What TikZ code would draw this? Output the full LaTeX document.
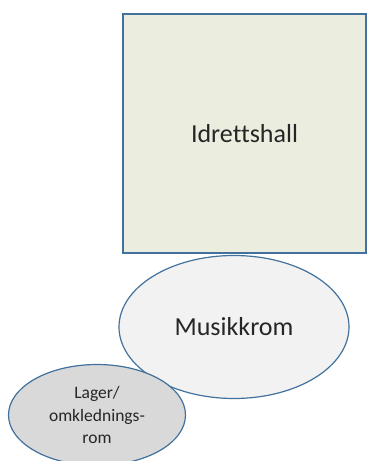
\documentclass[tikz,border=0pt]{standalone}
\usepackage{fontspec}
\setmainfont{Carlito}[Ligatures=CommonOff]
\usetikzlibrary{shapes.geometric}
\definecolor{rimblue}{HTML}{41719C}
\definecolor{hallfill}{HTML}{EBEEDF}
\definecolor{musikkfill}{HTML}{F2F2F2}
\definecolor{lagerfill}{HTML}{D9D9D9}
\begin{document}
\begin{tikzpicture}[x=1pt, y=1pt,
	room/.style={draw=rimblue, line width=1.2pt, inner sep=0pt, text=black!85}]
	\clip (0,0) rectangle (367,461);
	\useasboundingbox (0,0) rectangle (367,461);

	\node[room, rectangle, fill=hallfill, minimum width=243pt, minimum height=239pt, font=\fontsize{26}{30}\selectfont] (hall) at (244.5,327.5) {Idrettshall};
	\node[room, ellipse, fill=musikkfill, minimum width=230pt, minimum height=143pt, font=\fontsize{26}{30}\selectfont] (musikk) at (234,134) {Musikkrom};
	\node[room, ellipse, fill=lagerfill, minimum width=177pt, minimum height=101pt, align=center, font=\fontsize{17.5}{22.5}\selectfont] (lager) at (97,46) {Lager/\\omklednings-\\rom};
\end{tikzpicture}
\end{document}
